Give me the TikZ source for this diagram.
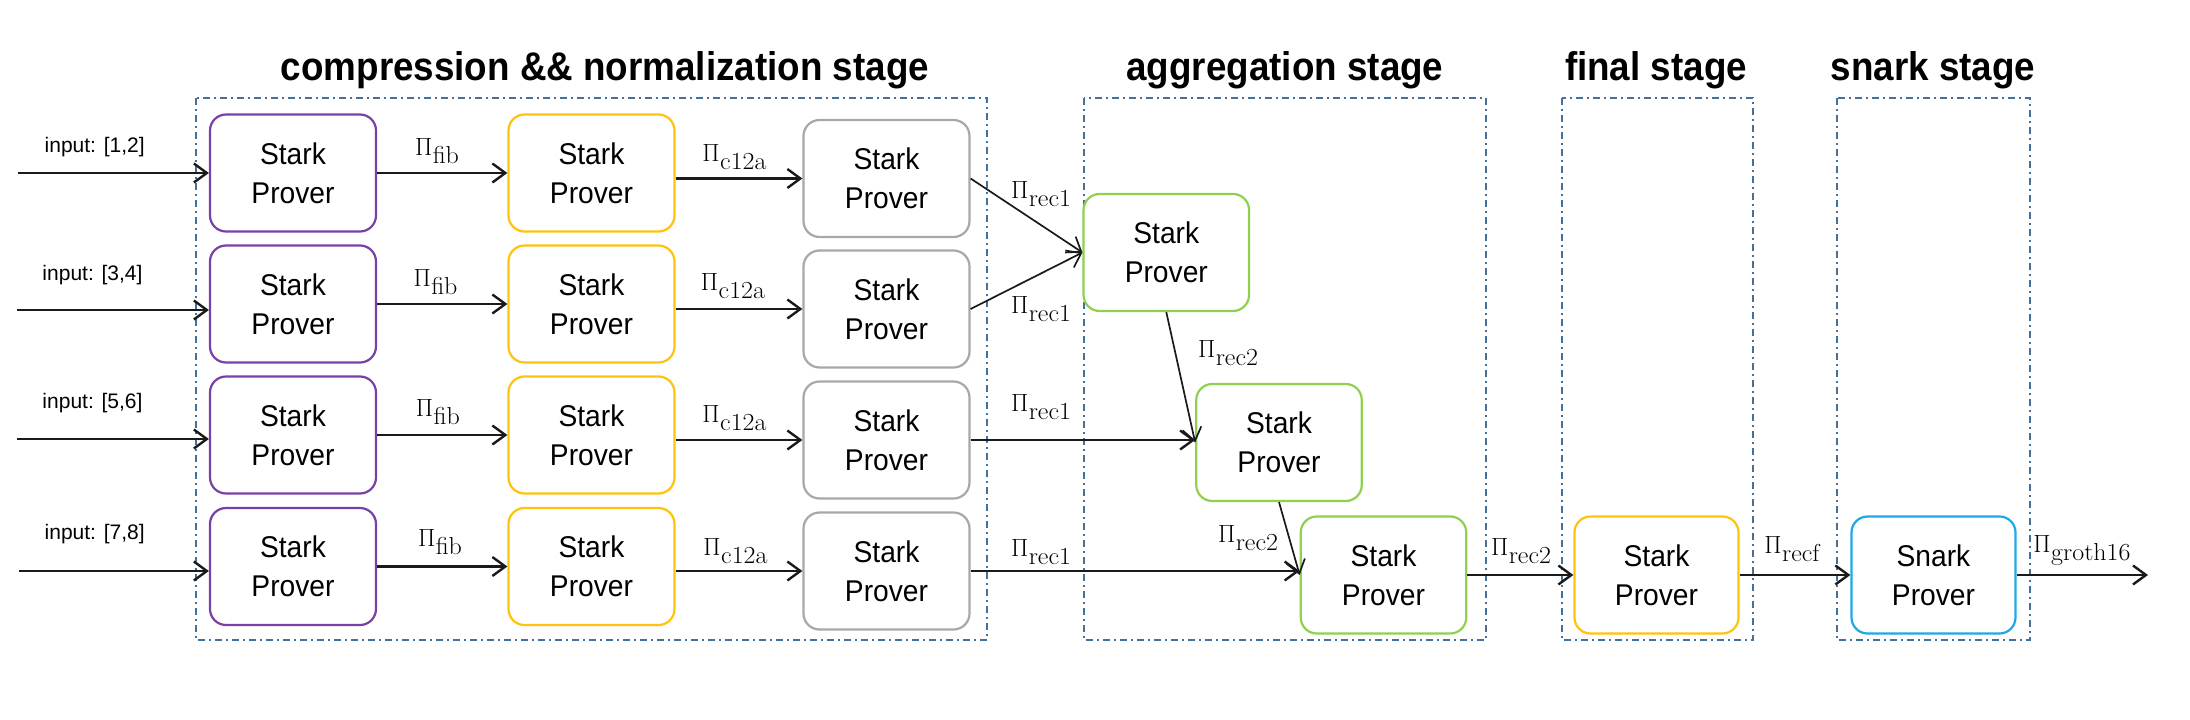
\documentclass[tikz,border=0pt]{standalone}
\usepackage[no-math]{fontspec}
\setmainfont{Liberation Sans}
\newfontfamily\boxfont{Liberation Sans}[FakeStretch=0.94]
\newfontfamily\titlefont{Liberation Sans Bold}[FakeStretch=0.92]
\newfontfamily\serifsub{Latin Modern Roman}[FakeStretch=1.06]
\usetikzlibrary{arrows.meta}
\definecolor{cpurple}{HTML}{7B3FA8}
\definecolor{cyellow}{HTML}{FFC20E}
\definecolor{cgray}{HTML}{A8A8A8}
\definecolor{cgreen}{HTML}{8FD14F}
\definecolor{cblue}{HTML}{1EA8E6}
\definecolor{cstage}{HTML}{44709C}
\definecolor{carrow}{HTML}{1A1A1A}
\newcommand\PiL[1]{$\Pi$\kern0.5pt\raisebox{-8pt}{\serifsub\fontsize{24.5}{28}\selectfont #1}}
\tikzset{
  prover/.style={draw, rounded corners=16pt, line width=2.2pt, fill=white,
    minimum width=166pt, minimum height=117pt, inner sep=0pt, align=center,
    font=\boxfont\fontsize{30}{39}\selectfont},
  lab/.style={font=\fontsize{23}{28}\selectfont, inner sep=0pt},
  inlab/.style={font=\fontsize{21}{25}\selectfont, inner sep=0pt},
  stagetitle/.style={font=\titlefont\fontsize{40}{48}\selectfont, anchor=base, inner sep=0pt},
  stagebox/.style={draw=cstage, line width=2pt, dash pattern=on 7pt off 4pt on 2pt off 4pt},
  arr/.style={draw=carrow, line width=2.4pt, -{Straight Barb[length=13pt,width=19pt]}},
  darr/.style={arr, line width=1.7pt}
}
\begin{document}
\begin{tikzpicture}[x=1pt,y=-1pt]
\useasboundingbox (0,0) rectangle (2190,720);
% stage frames
\draw[stagebox] (196,98) rectangle (987,640);
\draw[stagebox] (1084,98) rectangle (1486,640);
\draw[stagebox] (1562,98) rectangle (1753,640);
\draw[stagebox] (1837,98) rectangle (2030,640);
% titles
\node[stagetitle] (t1) at (605,80) {compression \&\& normalization stage};
\node[stagetitle] (t2) at (1285,80) {aggregation stage};
\node[stagetitle] (t3) at (1656,80) {final stage};
\node[stagetitle] (t4) at (1933,80) {snark stage};
% provers
\foreach \r/\y/\g in {1/173/178.5, 2/304/309, 3/435/440, 4/566.5/571}{
  \node[prover, draw=cpurple] (p\r) at (293,\y) {Stark\\Prover};
  \node[prover, draw=cyellow] (y\r) at (591.5,\y) {Stark\\Prover};
  \node[prover, draw=cgray] (g\r) at (886.5,\g) {Stark\\Prover};
}
\node[prover, draw=cgreen, minimum width=165.5pt] (gr1) at (1166.3,252.5) {Stark\\Prover};
\node[prover, draw=cgreen, minimum width=165.5pt] (gr2) at (1279,442.5) {Stark\\Prover};
\node[prover, draw=cgreen, minimum width=165.5pt] (gr3) at (1383.5,575) {Stark\\Prover};
\node[prover, draw=cyellow, minimum width=164pt] (fin) at (1656.5,575) {Stark\\Prover};
\node[prover, draw=cblue, minimum width=164pt] (snk) at (1933.5,575) {Snark\\Prover};
% inputs
\coordinate (i1) at (18,173);
\coordinate (i2) at (17,310);
\coordinate (i3) at (17,439);
\coordinate (i4) at (19,571);
\foreach \r in {1,2,3,4}{
  \draw[arr] (i\r) -- (i\r -| p\r.west);
  \draw[arr] (p\r.east) -- (y\r.west);
  \draw[arr] (y\r.east |- g\r.west) -- (g\r.west);
}
\node[inlab] (il1) at (94.7,147) {input: [1,2]};
\node[inlab] (il2) at (92.5,275) {input: [3,4]};
\node[inlab] (il3) at (92.5,403) {input: [5,6]};
\node[inlab] (il4) at (94.7,534) {input: [7,8]};
% fib labels
\node[lab] (lf1) at (437,151) {\PiL{fib}};
\node[lab] (lf2) at (435.5,282) {\PiL{fib}};
\node[lab] (lf3) at (437.8,412) {\PiL{fib}};
\node[lab] (lf4) at (440,542) {\PiL{fib}};
% c12a labels
\node[lab] (lc1) at (734.5,157) {\PiL{c12a}};
\node[lab] (lc2) at (733,286) {\PiL{c12a}};
\node[lab] (lc3) at (734.5,418) {\PiL{c12a}};
\node[lab] (lc4) at (735.5,551) {\PiL{c12a}};
% aggregation arrows
\draw[darr] (g1.east) -- (gr1.west);
\draw[darr] (g2.east) -- (gr1.west);
\draw[arr] (g3.east) -- (g3.east -| gr2.west);
\draw[arr] (g4.east) -- (g4.east -| gr3.west);
\draw[darr] (gr1.south) -- (gr2.west);
\draw[darr] (gr2.south) -- (gr3.west);
\draw[arr] (gr3.east) -- (fin.west);
\draw[arr] (fin.east) -- (snk.west);
\coordinate (out) at (2148,575);
\draw[arr] (snk.east) -- (out);
% rec labels
\node[lab] (lr1) at (1041,194) {\PiL{rec1}};
\node[lab] (lr2) at (1041,309) {\PiL{rec1}};
\node[lab] (lr3) at (1041,407) {\PiL{rec1}};
\node[lab] (lr4) at (1041,552) {\PiL{rec1}};
\node[lab] (lq1) at (1228,353) {\PiL{rec2}};
\node[lab] (lq2) at (1248,538) {\PiL{rec2}};
\node[lab] (lq3) at (1521,551) {\PiL{rec2}};
\node[lab] (lrf) at (1792,549) {\PiL{recf}};
\node[lab] (lgr) at (2082,550) {\PiL{groth16}};
\end{tikzpicture}
\end{document}
